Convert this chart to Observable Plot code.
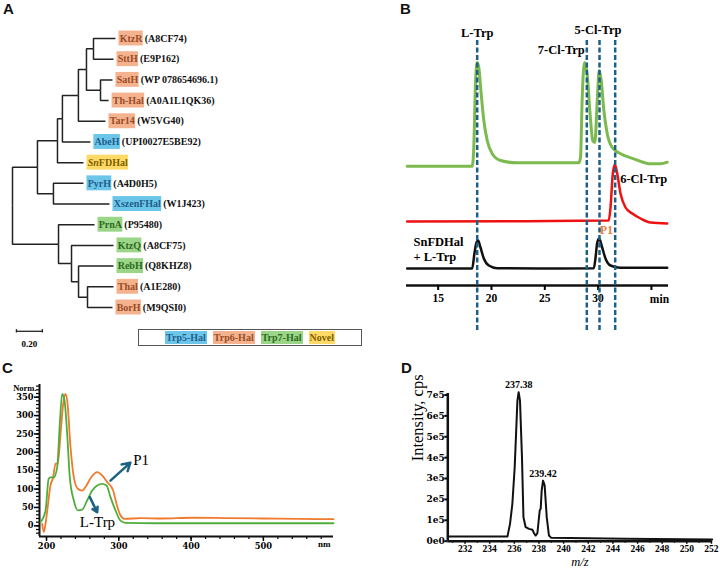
<!DOCTYPE html>
<html><head><meta charset="utf-8">
<script src="https://cdn.jsdelivr.net/npm/d3@7"></script>
<script src="https://cdn.jsdelivr.net/npm/@observablehq/plot@0.6"></script>
<style>
body{margin:0;background:#fff;}
#fig{position:relative;width:720px;height:569px;overflow:hidden;background:#fff;}
.panel{position:absolute;}
.letter{position:absolute;font:bold 15px "Liberation Sans",Arial,sans-serif;color:#111;line-height:15px;}
#legendA{position:absolute;left:138px;top:329px;width:222px;height:15px;border:1px solid #555;display:flex;justify-content:center;align-items:center;gap:6px;font:bold 10px "Liberation Serif",serif;}
#legendA span{padding:0 1px;height:13px;line-height:13px;}
</style></head><body><div id="fig"></div>
<script>
// ================= Panel A: phylogenetic tree =================
const treeNodes   = ["n1","n2","PyrH","XszenFHal","n3","SnFDHal","n4","AbeH","n5","Tar14","n6","n7","KtzR","SttH","n8","SatH","Th-Hal","n9","PrnA","n10","KtzQ","n11","RebH","n12","Thal","BorH"];
const treeParents = ["root","n1","n2","n2","n1","n3","n3","n4","n4","n5","n5","n6","n7","n7","n6","n8","n8","root","n9","n9","n10","n10","n11","n11","n12","n12"];
const branchLengths = [0.192,0.123,0.231,0.431,0.154,0.2,0.038,0.215,0.123,0.208,0.062,0.054,0.169,0.154,0.108,0.092,0.062,0.354,0.277,0.1,0.323,0.054,0.269,0.069,0.2,0.192];
const leafOrder  = ["KtzR","SttH","SatH","Th-Hal","Tar14","AbeH","SnFDHal","PyrH","XszenFHal","PrnA","KtzQ","RebH","Thal","BorH"];
const accessions = ["(A8CF74)","(E9P162)","(WP 078654696.1)","(A0A1L1QK36)","(W5VG40)","(UPI0027E5BE92)","","(A4D0H5)","(W1J423)","(P95480)","(A8CF75)","(Q8KHZ8)","(A1E280)","(M9QSI0)"];
const leafGroups = ["Trp6-Hal","Trp6-Hal","Trp6-Hal","Trp6-Hal","Trp6-Hal","Trp5-Hal","Novel","Trp5-Hal","Trp5-Hal","Trp7-Hal","Trp7-Hal","Trp7-Hal","Trp6-Hal","Trp6-Hal"];
const italicPrefix = {"SnFDHal":"Sn"};
const groupNames = ["Trp5-Hal","Trp6-Hal","Trp7-Hal","Novel"];
const groupFill  = ["#6cc6ea","#f4b28f","#9ad588","#ffda66"];
const groupInk   = ["#1f5e8a","#9a4c26","#2d6a1f","#7d5f00"];
const scaleBarLength = 0.20;

// ================= Panel B: HPLC chromatograms =================
const greenT = [12.09,18.19,18.34,18.5,18.66,18.81,19.03,19.28,19.6,20.07,20.84,22.4,24.9,28.19,28.35,28.5,28.72,28.97,29.22,29.5,29.69,29.92,30.1,30.29,30.54,30.85,31.32,32.1,33.35,34.92,35.86,36.48];
const greenV = [-1.7,-1.7,17,81,102,97,71,44,24,10.7,4,1.7,1.7,1.7,7,64,102,91,54,24,22,64,94,84,54,31,17,10.7,5.7,0.7,0.7,2.3];
const redT = [12.09,23.35,31.0,31.16,31.38,31.57,31.79,32.1,32.57,33.2,33.98,34.92,36.48];
const redV = [0,0.3,1,14,48,57,48,28,14,8,3,-1,-2];
const blackT = [12.09,18.19,18.4,18.59,18.75,18.97,19.28,19.75,20.53,26.47,29.6,29.76,29.92,30.1,30.38,30.69,31.16,32.1,36.48];
const blackV = [0,0,15,26,28,21,10,3,0.3,0,0.3,11,26,30,21,10,3,0.7,0.7];
const traceOffsets = [121, 64, 17];
const traceColors = ["#7cba4f","#ee1111","#111111"];
const standardNames = ["L-Trp","7-Cl-Trp","5-Cl-Trp","6-Cl-Trp"];
const standardTimes = [18.66, 28.94, 30.13, 31.6];
const timeTicks = [15,20,25,30,35];

// ================= Panel C: UV spectra =================
const lTrpNm  = [191.7,198.6,203,205.5,210,214.8,218.4,221.7,224.9,228.6,232.2,237.8,243.3,249.3,256.2,263.2,270.1,277,283,288.5,295.4,302.4,309.3,350,400,450,500,550,597];
const lTrpAbs = [10,41,128,132,132,160,278,359,341,250,132,69,42,44,69,96,110,114,110,78,42,14,8,7,7,7,7,7,7];
const p1Nm  = [194,196.3,198.6,201,205.5,209.2,212.4,215.6,219.4,223.1,225.9,228.6,233.2,237.8,243.3,249.3,255.3,261.8,270.1,277,283.9,292.2,296.8,302.4,307.9,330,360,400,450,500,550,597];
const p1Abs = [5,-17,5,41,110,132,169,169,250,332,359,341,214,132,101,96,110,132,146,137,119,96,60,28,19,21,20,22,21,20,19,18];

// ================= Panel D: mass spectrum =================
const mz = [230.6,235.44,235.65,235.84,236.03,236.25,236.35,236.46,236.62,236.74,236.92,237.19,237.47,237.6,237.73,237.87,238.06,238.14,238.22,238.33,238.46,238.63,238.81,239.0,245,252.06];
const intensity = [0.22e5,0.22e5,0.83e5,1.79e5,3.54e5,6.73e5,7.13e5,6.73e5,4.02e5,1.15e5,0.67e5,0.59e5,0.55e5,0.38e5,0.27e5,0.38e5,1.47e5,1.55e5,2.43e5,2.9e5,2.67e5,1.15e5,0.27e5,0.16e5,0.12e5,0.08e5];
const peakLabels = ["237.38","239.42"];
const peakMz = [236.35, 238.33];
const peakInt = [7.13e5, 2.9e5];

// ------------------------------------------------------------
const fig = document.getElementById("fig");
function place(node, left, top){ const d=document.createElement("div"); d.className="panel"; d.style.left=left+"px"; d.style.top=top+"px"; d.appendChild(node); fig.appendChild(d); }
function letter(t,left,top){ const d=document.createElement("div"); d.className="letter"; d.textContent=t; d.style.left=left+"px"; d.style.top=top+"px"; fig.appendChild(d); }
const ctx = document.createElement("canvas").getContext("2d");
function tw(s, font){ ctx.font = font; return s ? ctx.measureText(s).width : 0; }

// ---- Panel A ----
const nodes = new Map([["root",{parent:null,len:0}]]);
treeNodes.forEach((id,i)=>nodes.set(id,{parent:treeParents[i],len:branchLengths[i]}));
const depth = id => { const n = nodes.get(id); return n.parent ? n.len + depth(n.parent) : 0; };
const yOf = id => { const li = leafOrder.indexOf(id); if (li >= 0) return li;
  const ch = treeNodes.filter((c,i)=>treeParents[i]===id).map(yOf); return (Math.min(...ch)+Math.max(...ch))/2; };
const edges = treeNodes.map((id,i)=>({x1:depth(treeParents[i]), y1:yOf(treeParents[i]), x2:depth(id), y2:yOf(id)}));
const pxA = 1/130;
const fontA = "bold 10px 'Liberation Serif'";
const leaves = leafOrder.map((name,i)=>{
  const g = groupNames.indexOf(leafGroups[i]);
  const pre = italicPrefix[name] || "", rest = name.slice(pre.length);
  const wPre = tw(pre, "italic "+fontA), w = wPre + tw(rest, fontA);
  const x = depth(name);
  return {i, g, pre, rest, acc: accessions[i],
    bx1: x + 3.5*pxA, bx2: x + (3.5 + w + 1.5)*pxA,
    preX: x + 4.2*pxA, restX: x + (4.2 + wPre)*pxA, accX: x + (3.5 + w + 3)*pxA};
});
const plotA = Plot.plot({
  width:360, height:355, margin:0,
  x:{domain:[0,1], range:[12,142], axis:null},
  y:{domain:[0,13], range:[38,307], axis:null},
  color:{type:"identity"},
  style:{fontFamily:"'Liberation Serif', serif", fontWeight:"bold", fontSize:"10px", background:"transparent"},
  marks:[
    Plot.link(edges,{x1:"x1",y1:"y1",x2:"x2",y2:"y2",curve:"step-before",stroke:"#222",strokeWidth:1.5}),
    Plot.rect(leaves,{x1:"bx1",x2:"bx2",y1:d=>d.i-0.36,y2:d=>d.i+0.36,fill:d=>groupFill[d.g]}),
    Plot.text(leaves.filter(d=>d.pre),{x:"preX",y:"i",text:"pre",textAnchor:"start",fontStyle:"italic",fill:d=>groupInk[d.g]}),
    Plot.text(leaves,{x:"restX",y:"i",text:"rest",textAnchor:"start",fontStyle:"normal",fill:d=>groupInk[d.g]}),
    Plot.text(leaves,{x:"accX",y:"i",text:"acc",textAnchor:"start",fill:"#111"}),
    Plot.link([{a:0.03,b:0.03+scaleBarLength}],{x1:"a",x2:"b",y1:()=>14.15,y2:()=>14.15,stroke:"#222",strokeWidth:1.3}),
    Plot.ruleX([0.03,0.03+scaleBarLength],{y1:14.07,y2:14.23,stroke:"#222",strokeWidth:1.3}),
    Plot.text([scaleBarLength.toFixed(2)],{x:0.03+scaleBarLength/2,y:14.75,fontSize:9})
  ]
});
place(plotA,0,0);
const leg = document.createElement("div"); leg.id="legendA";
groupNames.forEach((g,i)=>{ const s=document.createElement("span"); s.textContent=g; s.style.background=groupFill[i]; s.style.color=groupInk[i]; leg.appendChild(s); });
fig.appendChild(leg);
letter("A",3,1);

// ---- Panel B ----
const traces = [[greenT,greenV],[redT,redV],[blackT,blackV]].map(([t,v],k)=>t.map((ti,i)=>({t:ti, s:v[i]+traceOffsets[k]})));
const fB = {fontFamily:"'Liberation Serif', serif", fontWeight:"bold", fontSize:12.5};
const plotB = Plot.plot({
  width:360, height:340, marginLeft:46, marginRight:52, marginTop:35, marginBottom:55,
  x:{domain:[12.03,36.6]}, y:{domain:[0,250], axis:null},
  style:{fontFamily:"'Liberation Serif', serif", background:"transparent"},
  marks:[
    Plot.line(traces[0],{x:"t",y:"s",stroke:traceColors[0],strokeWidth:3,curve:"monotone-x"}),
    Plot.line(traces[1],{x:"t",y:"s",stroke:traceColors[1],strokeWidth:2.5,curve:"monotone-x"}),
    Plot.line(traces[2],{x:"t",y:"s",stroke:traceColors[2],strokeWidth:2.5,curve:"monotone-x"}),
    Plot.ruleY([0],{stroke:"#111",strokeWidth:2.5}),
    Plot.axisX({ticks:timeTicks, tickFormat:d=>d===35?"":d, tickSize:5, tickPadding:3, strokeWidth:2, fontSize:11.5, fontWeight:"bold", label:null}),
    Plot.text(["min"],{x:35.75, frameAnchor:"bottom", dy:17.7, ...fB, fontSize:11.5}),
    Plot.ruleX(standardTimes,{y1:-45,y2:245,stroke:"#1d5f85",strokeWidth:2.5,strokeDasharray:"5,2.5"}),
    Plot.text([standardNames[0]],{x:standardTimes[0],y:253,...fB}),
    Plot.text([standardNames[1]],{x:standardTimes[1],y:236,dx:-2,textAnchor:"end",...fB}),
    Plot.text([standardNames[2]],{x:standardTimes[2],y:256,dx:-1.5,...fB}),
    Plot.text([standardNames[3]],{x:standardTimes[3],y:107,dx:5,textAnchor:"start",...fB}),
    Plot.text(["SnFDHal"],{x:12.03,y:44,dx:7,textAnchor:"start",...fB}),
    Plot.text(["+ L-Trp"],{x:12.03,y:29,dx:7,textAnchor:"start",...fB}),
    Plot.text(["P1"],{x:standardTimes[2],y:55,dx:7,...fB,fontSize:11.5,fill:"#ee7a36"})
  ]
});
place(plotB,360,0);
letter("B",400,1);

// ---- Panel C ----
const specRows = (nm,a)=>nm.map((x,i)=>({nm:x, a:a[i]}));
const digitFont = "'DejaVu Serif', serif";
const plotC = Plot.plot({
  width:360, height:214, marginLeft:39, marginRight:27, marginTop:29, marginBottom:33,
  x:{domain:[190.3,597]}, y:{domain:[-29,384.5]},
  style:{fontFamily:"'Liberation Serif', serif", background:"transparent"},
  marks:[
    Plot.axisY({ticks:d3.range(0,351,50), tickSize:5, tickPadding:1, strokeWidth:1.5, fontFamily:digitFont, fontWeight:"bold", fontSize:8.3, label:null}),
    Plot.axisY({ticks:d3.range(-20,381,10), tickSize:3, tickFormat:()=>"", strokeWidth:1.2, label:null}),
    Plot.axisX({ticks:[200,300,400,500], tickSize:5, tickPadding:2, strokeWidth:1.5, fontFamily:digitFont, fontWeight:"bold", fontSize:8.3, label:null}),
    Plot.axisX({ticks:d3.range(200,597,20), tickSize:3, tickFormat:()=>"", strokeWidth:1.2, label:null}),
    Plot.ruleX([190.3],{stroke:"#111",strokeWidth:2}),
    Plot.ruleY([-29],{stroke:"#111",strokeWidth:2}),
    Plot.text(["Norm."],{frameAnchor:"top-left", dx:-3, dy:0, textAnchor:"end", fontWeight:"bold", fontSize:8.5}),
    Plot.text(["nm"],{frameAnchor:"bottom-right", dx:-3, dy:10, fontWeight:"bold", fontSize:9}),
    Plot.line(specRows(p1Nm,p1Abs),{x:"nm",y:"a",stroke:"#f07a2e",strokeWidth:1.8,curve:"monotone-x"}),
    Plot.line(specRows(lTrpNm,lTrpAbs),{x:"nm",y:"a",stroke:"#4fae3b",strokeWidth:1.8,curve:"monotone-x"}),
    Plot.arrow([{x1:288.5,y1:123,x2:316,y2:172}],{x1:"x1",y1:"y1",x2:"x2",y2:"y2",stroke:"#1d6183",strokeWidth:2.5,headLength:7}),
    Plot.arrow([{x1:259.9,y1:78,x2:270.1,y2:37}],{x1:"x1",y1:"y1",x2:"x2",y2:"y2",stroke:"#1d6183",strokeWidth:2.5,headLength:7}),
    Plot.text(["P1"],{x:320,y:178,textAnchor:"start",fontSize:15}),
    Plot.text(["L-Trp"],{x:270.5,y:10,fontSize:15})
  ]
});
place(plotC,0,355);
letter("C",2,360);

// ---- Panel D ----
const msRows = mz.map((m,i)=>({mz:m, v:intensity[i]}));
const peaks = peakLabels.map((t,i)=>({t, mz:peakMz[i], v:peakInt[i]}));
const plotD = Plot.plot({
  width:360, height:214, marginLeft:87.3, marginRight:8.3, marginTop:38, marginBottom:28.3,
  x:{domain:[230.6,252.06]}, y:{domain:[0,7.07e5]},
  style:{fontFamily:"'Liberation Serif', serif", background:"transparent"},
  marks:[
    Plot.axisY({ticks:d3.range(0,7.01e5,1e5), tickFormat:d=>d===0?"0e0":(d/1e5)+"e5", tickSize:3, tickPadding:0, strokeWidth:2, fontFamily:digitFont, fontWeight:"bold", fontSize:9, label:null}),
    Plot.axisX({ticks:d3.range(232,253,2), tickSize:3, tickPadding:1.5, strokeWidth:1.5, fontWeight:"bold", fontSize:9.5, label:null}),
    Plot.axisX({ticks:d3.range(231,253,2), tickSize:2, tickFormat:()=>"", strokeWidth:1.2, label:null}),
    Plot.ruleX([230.6],{stroke:"#111",strokeWidth:2.5}),
    Plot.ruleY([0],{stroke:"#111",strokeWidth:2.5}),
    Plot.line(msRows,{x:"mz",y:"v",stroke:"#111",strokeWidth:2}),
    Plot.text(peaks,{x:"mz",y:"v",text:"t",dy:-7,fontWeight:"bold",fontSize:10}),
    Plot.text(["Intensity, cps"],{frameAnchor:"left",rotate:-90,dx:-30,dy:-6,fontSize:16.5}),
    Plot.text(["m/z"],{frameAnchor:"bottom",dy:24.5,fontStyle:"italic",fontSize:12.5})
  ]
});
place(plotD,360,355);
letter("D",401,360);
</script></body></html>
